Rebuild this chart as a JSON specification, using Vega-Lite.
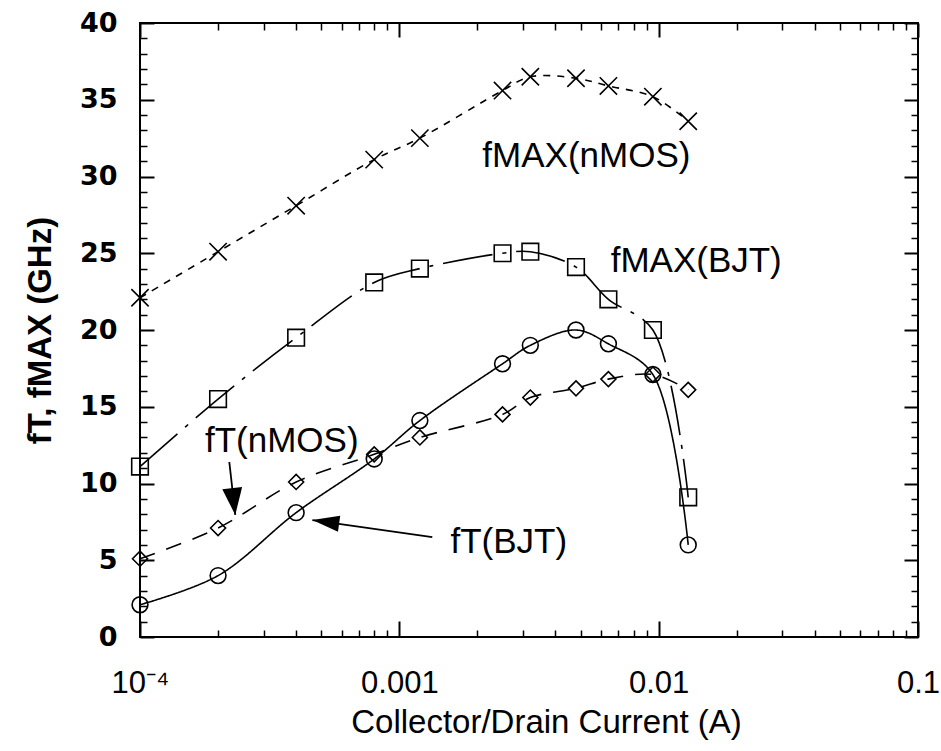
{
  "$schema": "https://vega.github.io/schema/vega-lite/v6.json",
  "width": 778,
  "height": 614,
  "autosize": "none",
  "padding": {"left": 140, "top": 23, "right": 23, "bottom": 114},
  "background": "white",
  "config": {
    "view": {"stroke": "black", "strokeWidth": 2},
    "axis": {"domain": false, "grid": false, "tickColor": "black", "labelColor": "black", "titleColor": "black", "labelFlush": false, "labelOverlap": false, "labelBound": false}
  },
  "datasets": {
    "pts": [
      {"series": "fMAX(nMOS)", "I": 0.0001, "f": 22.1},
      {"series": "fMAX(nMOS)", "I": 0.0002, "f": 25.1},
      {"series": "fMAX(nMOS)", "I": 0.0004, "f": 28.1},
      {"series": "fMAX(nMOS)", "I": 0.0008, "f": 31.1},
      {"series": "fMAX(nMOS)", "I": 0.0012, "f": 32.5},
      {"series": "fMAX(nMOS)", "I": 0.0025, "f": 35.6},
      {"series": "fMAX(nMOS)", "I": 0.0032, "f": 36.5},
      {"series": "fMAX(nMOS)", "I": 0.0048, "f": 36.4},
      {"series": "fMAX(nMOS)", "I": 0.0064, "f": 35.9},
      {"series": "fMAX(nMOS)", "I": 0.0095, "f": 35.2},
      {"series": "fMAX(nMOS)", "I": 0.013, "f": 33.6},
      {"series": "fMAX(BJT)", "I": 0.0001, "f": 11.1},
      {"series": "fMAX(BJT)", "I": 0.0002, "f": 15.5},
      {"series": "fMAX(BJT)", "I": 0.0004, "f": 19.5},
      {"series": "fMAX(BJT)", "I": 0.0008, "f": 23.1},
      {"series": "fMAX(BJT)", "I": 0.0012, "f": 24.0},
      {"series": "fMAX(BJT)", "I": 0.0025, "f": 25.0},
      {"series": "fMAX(BJT)", "I": 0.0032, "f": 25.1},
      {"series": "fMAX(BJT)", "I": 0.0048, "f": 24.1},
      {"series": "fMAX(BJT)", "I": 0.0064, "f": 22.0},
      {"series": "fMAX(BJT)", "I": 0.0095, "f": 20.0},
      {"series": "fMAX(BJT)", "I": 0.013, "f": 9.1},
      {"series": "fT(BJT)", "I": 0.0001, "f": 2.1},
      {"series": "fT(BJT)", "I": 0.0002, "f": 4.0},
      {"series": "fT(BJT)", "I": 0.0004, "f": 8.1},
      {"series": "fT(BJT)", "I": 0.0008, "f": 11.6},
      {"series": "fT(BJT)", "I": 0.0012, "f": 14.1},
      {"series": "fT(BJT)", "I": 0.0025, "f": 17.8},
      {"series": "fT(BJT)", "I": 0.0032, "f": 19.0},
      {"series": "fT(BJT)", "I": 0.0048, "f": 20.0},
      {"series": "fT(BJT)", "I": 0.0064, "f": 19.1},
      {"series": "fT(BJT)", "I": 0.0095, "f": 17.1},
      {"series": "fT(BJT)", "I": 0.013, "f": 6.0},
      {"series": "fT(nMOS)", "I": 0.0001, "f": 5.1},
      {"series": "fT(nMOS)", "I": 0.0002, "f": 7.1},
      {"series": "fT(nMOS)", "I": 0.0004, "f": 10.1},
      {"series": "fT(nMOS)", "I": 0.0008, "f": 11.9},
      {"series": "fT(nMOS)", "I": 0.0012, "f": 13.0},
      {"series": "fT(nMOS)", "I": 0.0025, "f": 14.5},
      {"series": "fT(nMOS)", "I": 0.0032, "f": 15.6},
      {"series": "fT(nMOS)", "I": 0.0048, "f": 16.2},
      {"series": "fT(nMOS)", "I": 0.0064, "f": 16.8},
      {"series": "fT(nMOS)", "I": 0.0095, "f": 17.1},
      {"series": "fT(nMOS)", "I": 0.013, "f": 16.1}
    ],
    "labels": [
      {"label": "fMAX(nMOS)", "I": 0.00209, "f": 30.6},
      {"label": "fMAX(BJT)", "I": 0.00653, "f": 23.8},
      {"label": "fT(nMOS)", "I": 0.000178, "f": 12.05},
      {"label": "fT(BJT)", "I": 0.001574, "f": 5.47}
    ],
    "arrows": [
      {"name": "nmos", "I": 0.000221, "f": 11.4, "I2": 0.000233, "f2": 7.95},
      {"name": "bjt", "I": 0.00134, "f": 6.51, "I2": 0.000462, "f2": 7.62}
    ]
  },
  "resolve": {"axis": {"x": "independent", "y": "independent"}},
  "layer": [
    {
      "data": {"name": "pts"},
      "mark": {"type": "line", "interpolate": "catmull-rom", "strokeWidth": 1.6, "color": "black"},
      "encoding": {
        "x": {
          "field": "I", "type": "quantitative",
          "scale": {"type": "log", "domain": [0.0001, 0.1]},
          "axis": {
            "orient": "bottom", "values": [0.0001, 0.001, 0.01, 0.1],
            "tickSize": -16, "tickWidth": 2,
            "labelExpr": "datum.value < 0.0005 ? '10⁻⁴' : datum.value < 0.005 ? '0.001' : datum.value < 0.05 ? '0.01' : '0.1'",
            "labelFont": "Liberation Sans", "labelFontSize": 31, "labelPadding": 47,
            "title": "Collector/Drain Current (A)", "titleFont": "Liberation Sans", "titleFontSize": 33, "titleFontWeight": "normal", "titlePadding": 8, "titleX": 406
          }
        },
        "y": {
          "field": "f", "type": "quantitative",
          "scale": {"domain": [0, 40]},
          "axis": {
            "orient": "left", "values": [0, 5, 10, 15, 20, 25, 30, 35, 40],
            "tickSize": -14, "tickWidth": 2,
            "labelFont": "DejaVu Sans", "labelFontWeight": "bold", "labelFontSize": 27, "labelPadding": 37, "labelBaseline": "middle",
            "title": "fT, fMAX (GHz)", "titleFont": "Liberation Sans", "titleFontSize": 33, "titleFontWeight": "bold", "titlePadding": 22
          }
        },
        "detail": {"field": "series"},
        "strokeDash": {
          "field": "series", "type": "nominal",
          "scale": {"domain": ["fMAX(nMOS)", "fMAX(BJT)", "fT(BJT)", "fT(nMOS)"], "range": [[7, 7], [50, 10, 4, 10], [1, 0], [16, 12]]},
          "legend": null
        }
      }
    },
    {
      "data": {"name": "pts"},
      "mark": {"type": "point", "filled": false, "stroke": "black", "strokeWidth": 1.6, "opacity": 1},
      "encoding": {
        "x": {"field": "I", "type": "quantitative", "axis": {"orient": "top", "values": [0.0001, 0.001, 0.01, 0.1], "tickSize": -14, "tickWidth": 2, "labels": false, "title": null}},
        "y": {"field": "f", "type": "quantitative", "axis": {"orient": "right", "values": [0, 5, 10, 15, 20, 25, 30, 35, 40], "tickSize": -14, "tickWidth": 2, "labels": false, "title": null}},
        "shape": {
          "field": "series", "type": "nominal",
          "scale": {"domain": ["fMAX(nMOS)", "fMAX(BJT)", "fT(BJT)", "fT(nMOS)"], "range": ["M-1,-1L1,1M-1,1L1,-1", "square", "circle", "diamond"]},
          "legend": null
        },
        "size": {
          "field": "series", "type": "ordinal",
          "scale": {"domain": ["fMAX(nMOS)", "fMAX(BJT)", "fT(BJT)", "fT(nMOS)"], "range": [300, 225, 420, 150]},
          "legend": null
        }
      }
    },
    {
      "data": {"name": "labels"},
      "mark": {"type": "text", "align": "left", "baseline": "alphabetic", "font": "Liberation Sans", "fontSize": 35, "color": "black"},
      "encoding": {
        "x": {"field": "I", "type": "quantitative", "axis": {"orient": "bottom", "values": [0.0002, 0.0003, 0.0004, 0.0005, 0.0006, 0.0007, 0.0008, 0.0009, 0.002, 0.003, 0.004, 0.005, 0.006, 0.007, 0.008, 0.009, 0.02, 0.03, 0.04, 0.05, 0.06, 0.07, 0.08, 0.09], "tickSize": -7, "tickWidth": 1.5, "labels": false, "title": null}},
        "y": {"field": "f", "type": "quantitative", "axis": {"orient": "left", "values": [1, 2, 3, 4, 6, 7, 8, 9, 11, 12, 13, 14, 16, 17, 18, 19, 21, 22, 23, 24, 26, 27, 28, 29, 31, 32, 33, 34, 36, 37, 38, 39], "tickSize": -7, "tickWidth": 1.5, "labels": false, "title": null}},
        "text": {"field": "label"}
      }
    },
    {
      "data": {"name": "arrows"},
      "mark": {"type": "rule", "strokeWidth": 1.8, "color": "black"},
      "encoding": {
        "x": {"field": "I", "type": "quantitative", "axis": {"orient": "top", "values": [0.0002, 0.0003, 0.0004, 0.0005, 0.0006, 0.0007, 0.0008, 0.0009, 0.002, 0.003, 0.004, 0.005, 0.006, 0.007, 0.008, 0.009, 0.02, 0.03, 0.04, 0.05, 0.06, 0.07, 0.08, 0.09], "tickSize": -7, "tickWidth": 1.5, "labels": false, "title": null}},
        "y": {"field": "f", "type": "quantitative", "axis": {"orient": "right", "values": [1, 2, 3, 4, 6, 7, 8, 9, 11, 12, 13, 14, 16, 17, 18, 19, 21, 22, 23, 24, 26, 27, 28, 29, 31, 32, 33, 34, 36, 37, 38, 39], "tickSize": -7, "tickWidth": 1.5, "labels": false, "title": null}},
        "x2": {"field": "I2"},
        "y2": {"field": "f2"}
      }
    },
    {
      "data": {"name": "arrows"},
      "transform": [{"filter": "datum.name == 'nmos'"}],
      "mark": {"type": "point", "shape": "M0,0L0.37,1L-0.37,1Z", "filled": true, "color": "black", "opacity": 1, "size": 2916, "angle": 173.5},
      "encoding": {
        "x": {"field": "I2", "type": "quantitative", "axis": null},
        "y": {"field": "f2", "type": "quantitative", "axis": null}
      }
    },
    {
      "data": {"name": "arrows"},
      "transform": [{"filter": "datum.name == 'bjt'"}],
      "mark": {"type": "point", "shape": "M0,0L0.3,1L-0.3,1Z", "filled": true, "color": "black", "opacity": 1, "size": 2916, "angle": 278},
      "encoding": {
        "x": {"field": "I2", "type": "quantitative", "axis": null},
        "y": {"field": "f2", "type": "quantitative", "axis": null}
      }
    }
  ]
}
